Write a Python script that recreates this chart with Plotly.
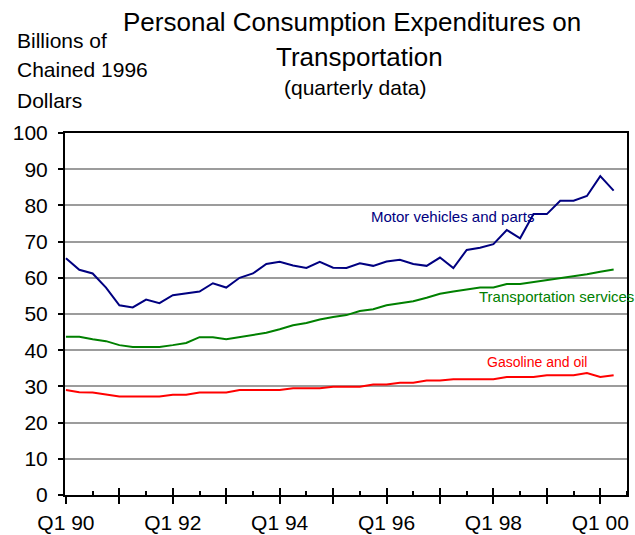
import plotly.graph_objects as go

# ---------------- data ----------------
quarters = [f"Q{q} {y % 100:02d}" for y in range(1990, 2001) for q in range(1, 5)][:42]

motor_vehicles = [65.4, 62.2, 61.2, 57.3, 52.4, 51.8, 54.0, 53.0, 55.2, 55.8,
                  56.2, 58.5, 57.3, 60.0, 61.2, 63.8, 64.4, 63.4, 62.7, 64.4,
                  62.8, 62.7, 64.0, 63.3, 64.5, 65.0, 63.8, 63.3, 65.6, 62.7,
                  67.7, 68.3, 69.3, 73.2, 70.9, 77.6, 77.6, 81.3, 81.3, 82.6,
                  88.1, 84.1]
transport_services = [43.7, 43.7, 43.0, 42.5, 41.4, 40.9, 40.9, 40.9, 41.4, 42.0,
                      43.6, 43.6, 43.0, 43.6, 44.2, 44.8, 45.8, 46.9, 47.5, 48.5,
                      49.2, 49.7, 50.8, 51.3, 52.4, 52.9, 53.5, 54.5, 55.6, 56.2,
                      56.7, 57.3, 57.3, 58.3, 58.3, 58.8, 59.4, 59.9, 60.5, 61.0,
                      61.7, 62.3]
gasoline_oil = [29.0, 28.4, 28.3, 27.8, 27.2, 27.2, 27.2, 27.2, 27.7, 27.7,
                28.3, 28.3, 28.3, 29.0, 29.0, 29.0, 29.0, 29.5, 29.5, 29.5,
                29.9, 29.9, 29.9, 30.5, 30.5, 31.0, 31.0, 31.6, 31.6, 32.0,
                32.0, 32.0, 32.0, 32.6, 32.6, 32.6, 33.1, 33.1, 33.1, 33.7,
                32.6, 33.1]

tick_labels = ["Q1 90", "Q1 92", "Q1 94", "Q1 96", "Q1 98", "Q1 00"]
year_starts = ["Q1 90", "Q1 91", "Q1 92", "Q1 93", "Q1 94", "Q1 95",
               "Q1 96", "Q1 97", "Q1 98", "Q1 99", "Q1 00"]

series_names = ["Motor vehicles and parts", "Transportation services", "Gasoline and oil"]
series_colors = ["#000080", "#008000", "#FF0000"]

# ---------------- layout helpers ----------------
W, H = 635, 535
L, R, T, B = 65, 8, 133, 40
PW, PH = W - L - R, H - T - B
FONT = "Arial, Liberation Sans, sans-serif"


def px(x):
    return (x - L) / PW


def py(y):
    return (H - B - y) / PH


xpos = list(range(len(quarters)))
XR = [-0.07, 42.0]

fig = go.Figure()
for name, vals, col in zip(series_names,
                           [motor_vehicles, transport_services, gasoline_oil],
                           series_colors):
    fig.add_trace(go.Scatter(x=xpos, y=vals, mode="lines", name=name,
                             line=dict(color=col, width=2), showlegend=False))

major_vals = [quarters.index(q) for q in year_starts]
label_text = [q if q in tick_labels else "" for q in year_starts]

fig.update_layout(
    width=W, height=H,
    margin=dict(l=L, r=R, t=T, b=B, autoexpand=False),
    paper_bgcolor="white", plot_bgcolor="white",
    font=dict(family=FONT, color="black", size=21),
    xaxis=dict(
        range=XR, tickmode="array", tickvals=major_vals, ticktext=label_text,
        ticks="outside", ticklen=7, tickwidth=1.5, tickcolor="black",
        showgrid=False, zeroline=False, automargin=False,
        showline=True, linecolor="black", linewidth=2, mirror=True,
        tickfont=dict(size=21, family=FONT, color="black"),
        minor=dict(tickmode="linear", tick0=2, dtick=4, ticks="inside",
                   ticklen=4, tickwidth=1.5, tickcolor="black", showgrid=False),
        ticklabelstandoff=1,
    ),
    xaxis2=dict(
        range=XR, overlaying="x", anchor="y", side="bottom", automargin=False,
        tickmode="array", tickvals=major_vals, ticktext=["" for _ in major_vals],
        ticks="inside", ticklen=7, tickwidth=1.5, tickcolor="black",
        showgrid=False, zeroline=False, showline=False, showticklabels=False,
    ),
    yaxis=dict(
        range=[0, 100], tickmode="linear", tick0=0, dtick=10,
        ticks="outside", ticklen=5, tickwidth=1.5, tickcolor="black",
        showgrid=True, gridcolor="#9c9c9c", gridwidth=1.5,
        zeroline=False, automargin=False,
        showline=True, linecolor="black", linewidth=2, mirror=True,
        tickfont=dict(size=21, family=FONT, color="black"),
        ticklabelstandoff=6,
    ),
)

# invisible trace so the overlay axis is drawn
fig.add_trace(go.Scatter(x=[XR[0]], y=[0], xaxis="x2", mode="markers",
                         marker=dict(opacity=0), showlegend=False, hoverinfo="skip"))

annos = [
    dict(text="Personal Consumption Expenditures on", x=px(352), y=py(22), size=26, xa="center"),
    dict(text="Transportation", x=px(359), y=py(57), size=26, xa="center"),
    dict(text="(quarterly data)", x=px(355), y=py(88), size=21, xa="center"),
    dict(text="Billions of", x=px(15), y=py(40), size=21, xa="left"),
    dict(text="Chained 1996", x=px(15), y=py(70), size=21, xa="left"),
    dict(text="Dollars", x=px(15), y=py(100), size=21, xa="left"),
]
for a in annos:
    fig.add_annotation(text=a["text"], x=a["x"], y=a["y"], xref="paper", yref="paper",
                       xanchor=a["xa"], yanchor="middle", showarrow=False,
                       font=dict(size=a["size"], family=FONT, color="black"))

# series labels (data coordinates)
label_pos = [(22.7, 76.9), (30.8, 54.8), (31.4, 36.7)]
label_sizes = [15, 15, 14]
for name, col, (lx, ly), sz in zip(series_names, series_colors, label_pos, label_sizes):
    fig.add_annotation(text=name, x=lx, y=ly, xref="x", yref="y",
                       xanchor="left", yanchor="middle", showarrow=False,
                       font=dict(size=sz, family=FONT, color=col))

fig.write_html(
    "out.html",
    config={"displayModeBar": False},
    post_script="document.body.style.margin='0';document.body.style.overflow='hidden';",
)
